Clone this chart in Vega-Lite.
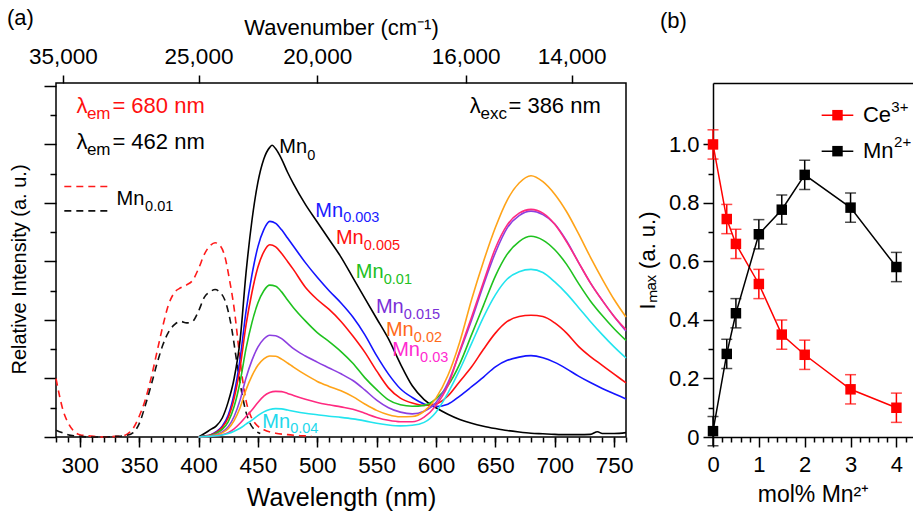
{
  "$schema": "https://vega.github.io/schema/vega-lite/v6.json",
  "padding": {"left": 6, "top": 6, "right": 0, "bottom": 0},
  "bounds": "flush",
  "spacing": 87,
  "config": {
    "font": "Liberation Sans",
    "view": {"stroke": null},
    "axis": {
      "labelFont": "Liberation Sans", "titleFont": "Liberation Sans",
      "labelColor": "#000", "titleColor": "#000", "tickColor": "#000", "domainColor": "#000",
      "labelFontSize": 22, "titleFontSize": 22, "titleFontWeight": "normal",
      "tickWidth": 1.5, "domainWidth": 1.5, "grid": false, "labelFlush": false
    },
    "title": {"font": "Liberation Sans", "fontSize": 22, "fontWeight": "normal", "color": "#000"}
  },
  "datasets": {
    "spectra": [
      {"s":"Mn0","wl":400,"I":0},{"s":"Mn0","wl":405,"I":0.012},{"s":"Mn0","wl":410,"I":0.025},{"s":"Mn0","wl":415,"I":0.038},{"s":"Mn0","wl":420,"I":0.065},{"s":"Mn0","wl":425,"I":0.12},{"s":"Mn0","wl":430,"I":0.2},{"s":"Mn0","wl":435,"I":0.33},{"s":"Mn0","wl":440,"I":0.56},{"s":"Mn0","wl":445,"I":0.74},{"s":"Mn0","wl":450,"I":0.87},{"s":"Mn0","wl":455,"I":0.95},{"s":"Mn0","wl":460,"I":0.99},{"s":"Mn0","wl":462,"I":0.997},{"s":"Mn0","wl":465,"I":0.985},{"s":"Mn0","wl":470,"I":0.95},{"s":"Mn0","wl":475,"I":0.905},{"s":"Mn0","wl":480,"I":0.865},{"s":"Mn0","wl":490,"I":0.795},{"s":"Mn0","wl":500,"I":0.735},{"s":"Mn0","wl":510,"I":0.675},{"s":"Mn0","wl":520,"I":0.615},{"s":"Mn0","wl":530,"I":0.545},{"s":"Mn0","wl":540,"I":0.475},{"s":"Mn0","wl":550,"I":0.405},{"s":"Mn0","wl":560,"I":0.335},{"s":"Mn0","wl":570,"I":0.25},{"s":"Mn0","wl":580,"I":0.175},{"s":"Mn0","wl":590,"I":0.128},{"s":"Mn0","wl":600,"I":0.1},{"s":"Mn0","wl":610,"I":0.078},{"s":"Mn0","wl":620,"I":0.06},{"s":"Mn0","wl":630,"I":0.047},{"s":"Mn0","wl":640,"I":0.037},{"s":"Mn0","wl":650,"I":0.029},{"s":"Mn0","wl":660,"I":0.022},{"s":"Mn0","wl":670,"I":0.017},{"s":"Mn0","wl":680,"I":0.013},{"s":"Mn0","wl":690,"I":0.011},{"s":"Mn0","wl":700,"I":0.009},{"s":"Mn0","wl":710,"I":0.008},{"s":"Mn0","wl":720,"I":0.008},{"s":"Mn0","wl":730,"I":0.009},{"s":"Mn0","wl":736,"I":0.018},{"s":"Mn0","wl":740,"I":0.012},{"s":"Mn0","wl":750,"I":0.012},{"s":"Mn0","wl":760,"I":0.015},

      {"s":"Mn0.003","wl":400,"I":0},{"s":"Mn0.003","wl":405,"I":0.003},{"s":"Mn0.003","wl":410,"I":0.007},{"s":"Mn0.003","wl":415,"I":0.018},{"s":"Mn0.003","wl":420,"I":0.037},{"s":"Mn0.003","wl":425,"I":0.074},{"s":"Mn0.003","wl":430,"I":0.148},{"s":"Mn0.003","wl":435,"I":0.266},{"s":"Mn0.003","wl":440,"I":0.429},{"s":"Mn0.003","wl":445,"I":0.554},{"s":"Mn0.003","wl":450,"I":0.65},{"s":"Mn0.003","wl":455,"I":0.709},{"s":"Mn0.003","wl":460,"I":0.737},{"s":"Mn0.003","wl":465,"I":0.73},{"s":"Mn0.003","wl":470,"I":0.708},{"s":"Mn0.003","wl":475,"I":0.68},{"s":"Mn0.003","wl":480,"I":0.652},{"s":"Mn0.003","wl":490,"I":0.596},{"s":"Mn0.003","wl":500,"I":0.546},{"s":"Mn0.003","wl":510,"I":0.5},{"s":"Mn0.003","wl":520,"I":0.458},{"s":"Mn0.003","wl":530,"I":0.41},{"s":"Mn0.003","wl":540,"I":0.35},{"s":"Mn0.003","wl":550,"I":0.278},{"s":"Mn0.003","wl":560,"I":0.215},{"s":"Mn0.003","wl":570,"I":0.165},{"s":"Mn0.003","wl":580,"I":0.135},{"s":"Mn0.003","wl":590,"I":0.113},{"s":"Mn0.003","wl":600,"I":0.104},{"s":"Mn0.003","wl":610,"I":0.112},{"s":"Mn0.003","wl":620,"I":0.14},{"s":"Mn0.003","wl":630,"I":0.172},{"s":"Mn0.003","wl":640,"I":0.205},{"s":"Mn0.003","wl":650,"I":0.24},{"s":"Mn0.003","wl":660,"I":0.262},{"s":"Mn0.003","wl":670,"I":0.273},{"s":"Mn0.003","wl":680,"I":0.278},{"s":"Mn0.003","wl":690,"I":0.271},{"s":"Mn0.003","wl":700,"I":0.255},{"s":"Mn0.003","wl":710,"I":0.233},{"s":"Mn0.003","wl":720,"I":0.208},{"s":"Mn0.003","wl":730,"I":0.186},{"s":"Mn0.003","wl":740,"I":0.166},{"s":"Mn0.003","wl":750,"I":0.148},{"s":"Mn0.003","wl":760,"I":0.13},

      {"s":"Mn0.005","wl":400,"I":0},{"s":"Mn0.005","wl":405,"I":0.003},{"s":"Mn0.005","wl":410,"I":0.007},{"s":"Mn0.005","wl":415,"I":0.016},{"s":"Mn0.005","wl":420,"I":0.033},{"s":"Mn0.005","wl":425,"I":0.066},{"s":"Mn0.005","wl":430,"I":0.132},{"s":"Mn0.005","wl":435,"I":0.237},{"s":"Mn0.005","wl":440,"I":0.382},{"s":"Mn0.005","wl":445,"I":0.494},{"s":"Mn0.005","wl":450,"I":0.58},{"s":"Mn0.005","wl":455,"I":0.633},{"s":"Mn0.005","wl":460,"I":0.657},{"s":"Mn0.005","wl":465,"I":0.65},{"s":"Mn0.005","wl":470,"I":0.627},{"s":"Mn0.005","wl":475,"I":0.6},{"s":"Mn0.005","wl":480,"I":0.572},{"s":"Mn0.005","wl":490,"I":0.512},{"s":"Mn0.005","wl":500,"I":0.47},{"s":"Mn0.005","wl":510,"I":0.436},{"s":"Mn0.005","wl":520,"I":0.395},{"s":"Mn0.005","wl":530,"I":0.345},{"s":"Mn0.005","wl":540,"I":0.29},{"s":"Mn0.005","wl":550,"I":0.226},{"s":"Mn0.005","wl":560,"I":0.168},{"s":"Mn0.005","wl":570,"I":0.133},{"s":"Mn0.005","wl":580,"I":0.116},{"s":"Mn0.005","wl":590,"I":0.108},{"s":"Mn0.005","wl":600,"I":0.113},{"s":"Mn0.005","wl":610,"I":0.14},{"s":"Mn0.005","wl":620,"I":0.19},{"s":"Mn0.005","wl":630,"I":0.24},{"s":"Mn0.005","wl":640,"I":0.3},{"s":"Mn0.005","wl":650,"I":0.355},{"s":"Mn0.005","wl":660,"I":0.395},{"s":"Mn0.005","wl":670,"I":0.412},{"s":"Mn0.005","wl":680,"I":0.416},{"s":"Mn0.005","wl":690,"I":0.412},{"s":"Mn0.005","wl":700,"I":0.39},{"s":"Mn0.005","wl":710,"I":0.355},{"s":"Mn0.005","wl":720,"I":0.31},{"s":"Mn0.005","wl":730,"I":0.275},{"s":"Mn0.005","wl":740,"I":0.245},{"s":"Mn0.005","wl":750,"I":0.215},{"s":"Mn0.005","wl":760,"I":0.185},

      {"s":"Mn0.01","wl":400,"I":0},{"s":"Mn0.01","wl":405,"I":0.003},{"s":"Mn0.01","wl":410,"I":0.005},{"s":"Mn0.01","wl":415,"I":0.013},{"s":"Mn0.01","wl":420,"I":0.026},{"s":"Mn0.01","wl":425,"I":0.052},{"s":"Mn0.01","wl":430,"I":0.104},{"s":"Mn0.01","wl":435,"I":0.188},{"s":"Mn0.01","wl":440,"I":0.302},{"s":"Mn0.01","wl":445,"I":0.391},{"s":"Mn0.01","wl":450,"I":0.458},{"s":"Mn0.01","wl":455,"I":0.5},{"s":"Mn0.01","wl":460,"I":0.519},{"s":"Mn0.01","wl":465,"I":0.515},{"s":"Mn0.01","wl":470,"I":0.496},{"s":"Mn0.01","wl":475,"I":0.468},{"s":"Mn0.01","wl":480,"I":0.442},{"s":"Mn0.01","wl":490,"I":0.397},{"s":"Mn0.01","wl":500,"I":0.357},{"s":"Mn0.01","wl":510,"I":0.326},{"s":"Mn0.01","wl":520,"I":0.292},{"s":"Mn0.01","wl":530,"I":0.252},{"s":"Mn0.01","wl":540,"I":0.203},{"s":"Mn0.01","wl":550,"I":0.162},{"s":"Mn0.01","wl":560,"I":0.127},{"s":"Mn0.01","wl":570,"I":0.11},{"s":"Mn0.01","wl":580,"I":0.105},{"s":"Mn0.01","wl":590,"I":0.108},{"s":"Mn0.01","wl":600,"I":0.13},{"s":"Mn0.01","wl":610,"I":0.175},{"s":"Mn0.01","wl":620,"I":0.25},{"s":"Mn0.01","wl":630,"I":0.35},{"s":"Mn0.01","wl":640,"I":0.45},{"s":"Mn0.01","wl":650,"I":0.55},{"s":"Mn0.01","wl":660,"I":0.625},{"s":"Mn0.01","wl":670,"I":0.668},{"s":"Mn0.01","wl":680,"I":0.686},{"s":"Mn0.01","wl":690,"I":0.673},{"s":"Mn0.01","wl":700,"I":0.64},{"s":"Mn0.01","wl":710,"I":0.59},{"s":"Mn0.01","wl":720,"I":0.525},{"s":"Mn0.01","wl":730,"I":0.465},{"s":"Mn0.01","wl":740,"I":0.415},{"s":"Mn0.01","wl":750,"I":0.37},{"s":"Mn0.01","wl":760,"I":0.33},

      {"s":"Mn0.015","wl":400,"I":0},{"s":"Mn0.015","wl":405,"I":0.002},{"s":"Mn0.015","wl":410,"I":0.003},{"s":"Mn0.015","wl":415,"I":0.009},{"s":"Mn0.015","wl":420,"I":0.017},{"s":"Mn0.015","wl":425,"I":0.035},{"s":"Mn0.015","wl":430,"I":0.07},{"s":"Mn0.015","wl":435,"I":0.126},{"s":"Mn0.015","wl":440,"I":0.202},{"s":"Mn0.015","wl":445,"I":0.262},{"s":"Mn0.015","wl":450,"I":0.307},{"s":"Mn0.015","wl":455,"I":0.335},{"s":"Mn0.015","wl":460,"I":0.348},{"s":"Mn0.015","wl":465,"I":0.346},{"s":"Mn0.015","wl":470,"I":0.336},{"s":"Mn0.015","wl":475,"I":0.319},{"s":"Mn0.015","wl":480,"I":0.302},{"s":"Mn0.015","wl":490,"I":0.277},{"s":"Mn0.015","wl":500,"I":0.256},{"s":"Mn0.015","wl":510,"I":0.236},{"s":"Mn0.015","wl":520,"I":0.216},{"s":"Mn0.015","wl":530,"I":0.193},{"s":"Mn0.015","wl":540,"I":0.161},{"s":"Mn0.015","wl":550,"I":0.126},{"s":"Mn0.015","wl":560,"I":0.1},{"s":"Mn0.015","wl":570,"I":0.085},{"s":"Mn0.015","wl":580,"I":0.079},{"s":"Mn0.015","wl":590,"I":0.088},{"s":"Mn0.015","wl":600,"I":0.118},{"s":"Mn0.015","wl":610,"I":0.185},{"s":"Mn0.015","wl":620,"I":0.29},{"s":"Mn0.015","wl":630,"I":0.4},{"s":"Mn0.015","wl":640,"I":0.52},{"s":"Mn0.015","wl":650,"I":0.63},{"s":"Mn0.015","wl":660,"I":0.715},{"s":"Mn0.015","wl":670,"I":0.757},{"s":"Mn0.015","wl":680,"I":0.772},{"s":"Mn0.015","wl":690,"I":0.76},{"s":"Mn0.015","wl":700,"I":0.728},{"s":"Mn0.015","wl":710,"I":0.67},{"s":"Mn0.015","wl":720,"I":0.597},{"s":"Mn0.015","wl":730,"I":0.527},{"s":"Mn0.015","wl":740,"I":0.467},{"s":"Mn0.015","wl":750,"I":0.412},{"s":"Mn0.015","wl":760,"I":0.362},

      {"s":"Mn0.02","wl":400,"I":0},{"s":"Mn0.02","wl":405,"I":0.001},{"s":"Mn0.02","wl":410,"I":0.003},{"s":"Mn0.02","wl":415,"I":0.007},{"s":"Mn0.02","wl":420,"I":0.014},{"s":"Mn0.02","wl":425,"I":0.028},{"s":"Mn0.02","wl":430,"I":0.056},{"s":"Mn0.02","wl":435,"I":0.1},{"s":"Mn0.02","wl":440,"I":0.161},{"s":"Mn0.02","wl":445,"I":0.209},{"s":"Mn0.02","wl":450,"I":0.245},{"s":"Mn0.02","wl":455,"I":0.267},{"s":"Mn0.02","wl":460,"I":0.277},{"s":"Mn0.02","wl":465,"I":0.276},{"s":"Mn0.02","wl":470,"I":0.266},{"s":"Mn0.02","wl":475,"I":0.253},{"s":"Mn0.02","wl":480,"I":0.239},{"s":"Mn0.02","wl":490,"I":0.213},{"s":"Mn0.02","wl":500,"I":0.19},{"s":"Mn0.02","wl":510,"I":0.173},{"s":"Mn0.02","wl":520,"I":0.158},{"s":"Mn0.02","wl":530,"I":0.138},{"s":"Mn0.02","wl":540,"I":0.113},{"s":"Mn0.02","wl":550,"I":0.091},{"s":"Mn0.02","wl":560,"I":0.076},{"s":"Mn0.02","wl":570,"I":0.069},{"s":"Mn0.02","wl":580,"I":0.07},{"s":"Mn0.02","wl":590,"I":0.088},{"s":"Mn0.02","wl":600,"I":0.133},{"s":"Mn0.02","wl":610,"I":0.21},{"s":"Mn0.02","wl":620,"I":0.325},{"s":"Mn0.02","wl":630,"I":0.47},{"s":"Mn0.02","wl":640,"I":0.6},{"s":"Mn0.02","wl":650,"I":0.716},{"s":"Mn0.02","wl":660,"I":0.81},{"s":"Mn0.02","wl":670,"I":0.868},{"s":"Mn0.02","wl":680,"I":0.893},{"s":"Mn0.02","wl":690,"I":0.873},{"s":"Mn0.02","wl":700,"I":0.83},{"s":"Mn0.02","wl":710,"I":0.77},{"s":"Mn0.02","wl":720,"I":0.695},{"s":"Mn0.02","wl":730,"I":0.615},{"s":"Mn0.02","wl":740,"I":0.54},{"s":"Mn0.02","wl":750,"I":0.47},{"s":"Mn0.02","wl":760,"I":0.41},

      {"s":"Mn0.03","wl":400,"I":0},{"s":"Mn0.03","wl":405,"I":0.001},{"s":"Mn0.03","wl":410,"I":0.002},{"s":"Mn0.03","wl":415,"I":0.004},{"s":"Mn0.03","wl":420,"I":0.008},{"s":"Mn0.03","wl":425,"I":0.015},{"s":"Mn0.03","wl":430,"I":0.028},{"s":"Mn0.03","wl":435,"I":0.047},{"s":"Mn0.03","wl":440,"I":0.07},{"s":"Mn0.03","wl":445,"I":0.092},{"s":"Mn0.03","wl":450,"I":0.118},{"s":"Mn0.03","wl":455,"I":0.14},{"s":"Mn0.03","wl":460,"I":0.152},{"s":"Mn0.03","wl":465,"I":0.156},{"s":"Mn0.03","wl":470,"I":0.155},{"s":"Mn0.03","wl":475,"I":0.149},{"s":"Mn0.03","wl":480,"I":0.142},{"s":"Mn0.03","wl":490,"I":0.129},{"s":"Mn0.03","wl":500,"I":0.118},{"s":"Mn0.03","wl":510,"I":0.11},{"s":"Mn0.03","wl":520,"I":0.103},{"s":"Mn0.03","wl":530,"I":0.095},{"s":"Mn0.03","wl":540,"I":0.081},{"s":"Mn0.03","wl":550,"I":0.067},{"s":"Mn0.03","wl":560,"I":0.057},{"s":"Mn0.03","wl":570,"I":0.052},{"s":"Mn0.03","wl":580,"I":0.052},{"s":"Mn0.03","wl":590,"I":0.068},{"s":"Mn0.03","wl":600,"I":0.108},{"s":"Mn0.03","wl":610,"I":0.175},{"s":"Mn0.03","wl":620,"I":0.295},{"s":"Mn0.03","wl":630,"I":0.41},{"s":"Mn0.03","wl":640,"I":0.53},{"s":"Mn0.03","wl":650,"I":0.645},{"s":"Mn0.03","wl":660,"I":0.725},{"s":"Mn0.03","wl":670,"I":0.765},{"s":"Mn0.03","wl":680,"I":0.778},{"s":"Mn0.03","wl":690,"I":0.765},{"s":"Mn0.03","wl":700,"I":0.727},{"s":"Mn0.03","wl":710,"I":0.667},{"s":"Mn0.03","wl":720,"I":0.597},{"s":"Mn0.03","wl":730,"I":0.527},{"s":"Mn0.03","wl":740,"I":0.467},{"s":"Mn0.03","wl":750,"I":0.412},{"s":"Mn0.03","wl":760,"I":0.367},

      {"s":"Mn0.04","wl":400,"I":0},{"s":"Mn0.04","wl":405,"I":0.001},{"s":"Mn0.04","wl":410,"I":0.002},{"s":"Mn0.04","wl":415,"I":0.004},{"s":"Mn0.04","wl":420,"I":0.007},{"s":"Mn0.04","wl":425,"I":0.012},{"s":"Mn0.04","wl":430,"I":0.02},{"s":"Mn0.04","wl":435,"I":0.03},{"s":"Mn0.04","wl":440,"I":0.044},{"s":"Mn0.04","wl":445,"I":0.058},{"s":"Mn0.04","wl":450,"I":0.073},{"s":"Mn0.04","wl":455,"I":0.086},{"s":"Mn0.04","wl":460,"I":0.094},{"s":"Mn0.04","wl":465,"I":0.097},{"s":"Mn0.04","wl":470,"I":0.096},{"s":"Mn0.04","wl":475,"I":0.092},{"s":"Mn0.04","wl":480,"I":0.088},{"s":"Mn0.04","wl":490,"I":0.081},{"s":"Mn0.04","wl":500,"I":0.076},{"s":"Mn0.04","wl":510,"I":0.071},{"s":"Mn0.04","wl":520,"I":0.067},{"s":"Mn0.04","wl":530,"I":0.062},{"s":"Mn0.04","wl":540,"I":0.055},{"s":"Mn0.04","wl":550,"I":0.047},{"s":"Mn0.04","wl":560,"I":0.041},{"s":"Mn0.04","wl":570,"I":0.038},{"s":"Mn0.04","wl":580,"I":0.04},{"s":"Mn0.04","wl":590,"I":0.05},{"s":"Mn0.04","wl":600,"I":0.085},{"s":"Mn0.04","wl":610,"I":0.15},{"s":"Mn0.04","wl":620,"I":0.23},{"s":"Mn0.04","wl":630,"I":0.32},{"s":"Mn0.04","wl":640,"I":0.41},{"s":"Mn0.04","wl":650,"I":0.486},{"s":"Mn0.04","wl":660,"I":0.54},{"s":"Mn0.04","wl":670,"I":0.565},{"s":"Mn0.04","wl":680,"I":0.573},{"s":"Mn0.04","wl":690,"I":0.562},{"s":"Mn0.04","wl":700,"I":0.53},{"s":"Mn0.04","wl":710,"I":0.49},{"s":"Mn0.04","wl":720,"I":0.443},{"s":"Mn0.04","wl":730,"I":0.395},{"s":"Mn0.04","wl":740,"I":0.35},{"s":"Mn0.04","wl":750,"I":0.308},{"s":"Mn0.04","wl":760,"I":0.27}
    ],
    "excitation": [
      {"em":"680","wl":280,"I":0.2},{"em":"680","wl":283,"I":0.14},{"em":"680","wl":286,"I":0.09},{"em":"680","wl":290,"I":0.05},{"em":"680","wl":295,"I":0.02},{"em":"680","wl":300,"I":0.008},{"em":"680","wl":310,"I":0.003},{"em":"680","wl":320,"I":0},{"em":"680","wl":330,"I":0.002},{"em":"680","wl":335,"I":0.003},{"em":"680","wl":340,"I":0.01},{"em":"680","wl":345,"I":0.03},{"em":"680","wl":350,"I":0.07},{"em":"680","wl":355,"I":0.125},{"em":"680","wl":360,"I":0.2},{"em":"680","wl":365,"I":0.29},{"em":"680","wl":370,"I":0.38},{"em":"680","wl":375,"I":0.455},{"em":"680","wl":380,"I":0.495},{"em":"680","wl":385,"I":0.51},{"em":"680","wl":390,"I":0.52},{"em":"680","wl":395,"I":0.535},{"em":"680","wl":400,"I":0.575},{"em":"680","wl":405,"I":0.625},{"em":"680","wl":410,"I":0.655},{"em":"680","wl":414,"I":0.664},{"em":"680","wl":418,"I":0.655},{"em":"680","wl":422,"I":0.62},{"em":"680","wl":426,"I":0.54},{"em":"680","wl":430,"I":0.44},{"em":"680","wl":434,"I":0.3},{"em":"680","wl":437,"I":0.2},{"em":"680","wl":440,"I":0.125},{"em":"680","wl":444,"I":0.072},{"em":"680","wl":448,"I":0.045},{"em":"680","wl":455,"I":0.025},{"em":"680","wl":465,"I":0.013},{"em":"680","wl":475,"I":0.008},{"em":"680","wl":485,"I":0.005},{"em":"680","wl":495,"I":0.003},
      {"em":"462","wl":280,"I":0.023},{"em":"462","wl":285,"I":0.015},{"em":"462","wl":290,"I":0.008},{"em":"462","wl":295,"I":0.004},{"em":"462","wl":300,"I":0.002},{"em":"462","wl":310,"I":0},{"em":"462","wl":320,"I":0},{"em":"462","wl":330,"I":0.002},{"em":"462","wl":340,"I":0.006},{"em":"462","wl":345,"I":0.015},{"em":"462","wl":350,"I":0.045},{"em":"462","wl":355,"I":0.105},{"em":"462","wl":360,"I":0.175},{"em":"462","wl":365,"I":0.25},{"em":"462","wl":370,"I":0.315},{"em":"462","wl":375,"I":0.36},{"em":"462","wl":380,"I":0.385},{"em":"462","wl":385,"I":0.395},{"em":"462","wl":390,"I":0.39},{"em":"462","wl":395,"I":0.395},{"em":"462","wl":400,"I":0.43},{"em":"462","wl":405,"I":0.478},{"em":"462","wl":410,"I":0.497},{"em":"462","wl":414,"I":0.504},{"em":"462","wl":418,"I":0.495},{"em":"462","wl":422,"I":0.47},{"em":"462","wl":425,"I":0.43},{"em":"462","wl":428,"I":0.37},{"em":"462","wl":431,"I":0.29},{"em":"462","wl":434,"I":0.21},{"em":"462","wl":437,"I":0.14},{"em":"462","wl":440,"I":0.085},{"em":"462","wl":443,"I":0.05},{"em":"462","wl":447,"I":0.025},{"em":"462","wl":452,"I":0.012}
    ],
    "keysA": [
      {"em":"680","wl":287,"wl2":323.4,"I":0.856},
      {"em":"462","wl":287,"wl2":323.4,"I":0.773}
    ],
    "notes": [
      {"key":"em680","part":"main","wl":297.3,"I":1.131,"t":"λ"},
      {"key":"em680","part":"sub","wl":306,"I":1.103,"t":"em"},
      {"key":"em680","part":"main","wl":327.5,"I":1.131,"t":"= 680 nm"},
      {"key":"em462","part":"main","wl":297.3,"I":1.008,"t":"λ"},
      {"key":"em462","part":"sub","wl":306,"I":0.98,"t":"em"},
      {"key":"em462","part":"main","wl":327.5,"I":1.008,"t":"= 462 nm"},
      {"key":"exc","part":"main","wl":628.5,"I":1.131,"t":"λ"},
      {"key":"exc","part":"sub","wl":637.5,"I":1.103,"t":"exc"},
      {"key":"exc","part":"main","wl":661,"I":1.131,"t":"= 386 nm"},
      {"key":"key","part":"main","wl":331,"I":0.814,"t":"Mn"},
      {"key":"key","part":"sub","wl":355,"I":0.785,"t":"0.01"},
      {"key":"Mn0","part":"main","wl":468,"I":0.99,"t":"Mn"},
      {"key":"Mn0","part":"sub","wl":491.5,"I":0.962,"t":"0"},
      {"key":"Mn0.003","part":"main","wl":498.3,"I":0.773,"t":"Mn"},
      {"key":"Mn0.003","part":"sub","wl":521.8,"I":0.747,"t":"0.003"},
      {"key":"Mn0.005","part":"main","wl":515.7,"I":0.681,"t":"Mn"},
      {"key":"Mn0.005","part":"sub","wl":539.2,"I":0.652,"t":"0.005"},
      {"key":"Mn0.01","part":"main","wl":532.5,"I":0.564,"t":"Mn"},
      {"key":"Mn0.01","part":"sub","wl":556,"I":0.535,"t":"0.01"},
      {"key":"Mn0.015","part":"main","wl":549.4,"I":0.444,"t":"Mn"},
      {"key":"Mn0.015","part":"sub","wl":572.9,"I":0.417,"t":"0.015"},
      {"key":"Mn0.02","part":"main","wl":557.8,"I":0.366,"t":"Mn"},
      {"key":"Mn0.02","part":"sub","wl":581.3,"I":0.339,"t":"0.02"},
      {"key":"Mn0.03","part":"main","wl":563.1,"I":0.296,"t":"Mn"},
      {"key":"Mn0.03","part":"sub","wl":586.6,"I":0.269,"t":"0.03"},
      {"key":"Mn0.04","part":"main","wl":453.7,"I":0.052,"t":"Mn"},
      {"key":"Mn0.04","part":"sub","wl":477.2,"I":0.027,"t":"0.04"}
    ],
    "imax": [
      {"ion":"Ce","mol":0,"I":1.0,"lo":0.95,"hi":1.05},
      {"ion":"Ce","mol":0.3,"I":0.745,"lo":0.695,"hi":0.795},
      {"ion":"Ce","mol":0.5,"I":0.66,"lo":0.61,"hi":0.71},
      {"ion":"Ce","mol":1,"I":0.523,"lo":0.473,"hi":0.573},
      {"ion":"Ce","mol":1.5,"I":0.35,"lo":0.3,"hi":0.4},
      {"ion":"Ce","mol":2,"I":0.281,"lo":0.231,"hi":0.331},
      {"ion":"Ce","mol":3,"I":0.163,"lo":0.113,"hi":0.213},
      {"ion":"Ce","mol":4,"I":0.1,"lo":0.05,"hi":0.15},
      {"ion":"Mn","mol":0,"I":0.02,"lo":-0.03,"hi":0.07},
      {"ion":"Mn","mol":0.3,"I":0.284,"lo":0.234,"hi":0.334},
      {"ion":"Mn","mol":0.5,"I":0.423,"lo":0.373,"hi":0.473},
      {"ion":"Mn","mol":1,"I":0.693,"lo":0.643,"hi":0.743},
      {"ion":"Mn","mol":1.5,"I":0.777,"lo":0.727,"hi":0.827},
      {"ion":"Mn","mol":2,"I":0.896,"lo":0.846,"hi":0.946},
      {"ion":"Mn","mol":3,"I":0.784,"lo":0.734,"hi":0.834},
      {"ion":"Mn","mol":4,"I":0.581,"lo":0.531,"hi":0.631}
    ],
    "keysB": [
      {"ion":"Ce","x":2.37,"x2":3.06,"xm":2.715,"I":1.1},
      {"ion":"Mn","x":2.37,"x2":3.06,"xm":2.715,"I":0.977}
    ],
    "notesB": [
      {"part":"main","x":3.27,"I":1.1,"t":"Ce"},
      {"part":"sup","x":3.89,"I":1.128,"t":"3+"},
      {"part":"main","x":3.27,"I":0.977,"t":"Mn"},
      {"part":"sup","x":3.95,"I":1.008,"t":"2+"}
    ]
  },
  "hconcat": [
    {
      "width": 570,
      "height": 354,
      "view": {"stroke": "#000", "strokeWidth": 1.5},
      "title": {"text": "(a)", "anchor": "start", "frame": "group", "dx": -49, "dy": 14, "offset": 0},
      "resolve": {"scale": {"color": "independent"}, "axis": {"x": "independent", "y": "independent"}},
      "layer": [
        {
          "data": {"name": "excitation"},
          "mark": {"type": "line", "strokeWidth": 1.6, "strokeDash": [7, 5], "interpolate": "monotone"},
          "encoding": {
            "x": {"field": "wl", "type": "quantitative", "scale": {"domain": [280, 760], "nice": false, "zero": false},
                  "axis": {"orient": "bottom", "values": [280,290,300,310,320,330,340,350,360,370,380,390,400,410,420,430,440,450,460,470,480,490,500,510,520,530,540,550,560,570,580,590,600,610,620,630,640,650,660,670,680,690,700,710,720,730,740,750,760],
                           "tickSize": 5, "labels": false, "domain": false, "title": null}},
            "y": {"field": "I", "type": "quantitative", "scale": {"domain": [0, 1.21], "nice": false, "zero": false},
                  "axis": {"orient": "left", "values": [0.1, 0.3, 0.5, 0.7, 0.9, 1.1], "tickSize": 6, "labels": false, "domain": false, "title": null}},
            "color": {"field": "em", "type": "nominal", "scale": {"domain": ["680", "462"], "range": ["#ff1a1a", "#111111"]}, "legend": null}
          }
        },
        {
          "data": {"name": "spectra"},
          "mark": {"type": "line", "strokeWidth": 1.6, "interpolate": "monotone"},
          "encoding": {
            "x": {"field": "wl", "type": "quantitative", "scale": {"domain": [280, 760], "nice": false, "zero": false},
                  "axis": {"orient": "bottom", "values": [300,350,400,450,500,550,600,650,700,750], "tickSize": 10, "labelPadding": 7, "labelFontSize": 22.5, "domain": false,
                           "title": "Wavelength (nm)", "titleFontSize": 25, "titlePadding": 9}},
            "y": {"field": "I", "type": "quantitative", "scale": {"domain": [0, 1.21], "nice": false, "zero": false},
                  "axis": {"orient": "left", "values": [0, 0.2, 0.4, 0.6, 0.8, 1, 1.2], "tickSize": 12, "labels": false, "domain": false,
                           "title": "Relative Intensity (a. u.)", "titleFontSize": 20, "titlePadding": 14, "titleY": 186}},
            "color": {"field": "s", "type": "nominal",
                      "scale": {"domain": ["Mn0","Mn0.003","Mn0.005","Mn0.01","Mn0.015","Mn0.02","Mn0.03","Mn0.04"],
                                "range": ["#000000","#1414ff","#ff1010","#1fc21f","#8c3fe0","#ffa318","#ff2a80","#22e4ee"]},
                      "legend": null}
          }
        },
        {
          "data": {"name": "keysA"},
          "mark": {"type": "rule", "strokeWidth": 1.6, "strokeDash": [7, 5]},
          "encoding": {
            "x": {"field": "wl", "type": "quantitative", "scale": {"domain": [280, 760], "nice": false, "zero": false},
                  "axis": {"orient": "top", "values": [285.714, 400, 500, 625, 714.286],
                           "labelExpr": "format(round(10000000 / datum.value), ',')",
                           "tickSize": 8, "labelPadding": 7, "labelFontSize": 22.5, "domain": false,
                           "title": "Wavenumber (cm⁻¹)", "titleFontSize": 22, "titlePadding": 6}},
            "x2": {"field": "wl2"},
            "y": {"field": "I", "type": "quantitative", "scale": {"domain": [0, 1.21], "nice": false, "zero": false}, "axis": null},
            "color": {"field": "em", "type": "nominal", "scale": {"domain": ["680", "462"], "range": ["#ff1a1a", "#111111"]}, "legend": null}
          }
        },
        {
          "data": {"name": "notes"},
          "transform": [{"filter": "datum.part == 'main' && (datum.key == 'em680' || datum.key == 'em462' || datum.key == 'exc')"}],
          "mark": {"type": "text", "align": "left", "baseline": "middle", "fontSize": 22},
          "encoding": {
            "x": {"field": "wl", "type": "quantitative", "scale": {"domain": [280, 760], "nice": false, "zero": false}, "axis": null},
            "y": {"field": "I", "type": "quantitative", "scale": {"domain": [0, 1.21], "nice": false, "zero": false}, "axis": null},
            "text": {"field": "t"},
            "color": {"field": "key", "type": "nominal",
                      "scale": {"domain": ["em680","em462","exc"], "range": ["#ff1010","#000000","#000000"]},
                      "legend": null}
          }
        },
        {
          "data": {"name": "notes"},
          "transform": [{"filter": "datum.part == 'sub' && (datum.key == 'em680' || datum.key == 'em462' || datum.key == 'exc')"}],
          "mark": {"type": "text", "align": "left", "baseline": "middle", "fontSize": 17},
          "encoding": {
            "x": {"field": "wl", "type": "quantitative", "scale": {"domain": [280, 760], "nice": false, "zero": false}, "axis": null},
            "y": {"field": "I", "type": "quantitative", "scale": {"domain": [0, 1.21], "nice": false, "zero": false}, "axis": null},
            "text": {"field": "t"},
            "color": {"field": "key", "type": "nominal",
                      "scale": {"domain": ["em680","em462","exc"], "range": ["#ff1010","#000000","#000000"]},
                      "legend": null}
          }
        },
        {
          "data": {"name": "notes"},
          "transform": [{"filter": "datum.part == 'main' && datum.key != 'em680' && datum.key != 'em462' && datum.key != 'exc'"}],
          "mark": {"type": "text", "align": "left", "baseline": "middle", "fontSize": 20},
          "encoding": {
            "x": {"field": "wl", "type": "quantitative", "scale": {"domain": [280, 760], "nice": false, "zero": false}, "axis": null},
            "y": {"field": "I", "type": "quantitative", "scale": {"domain": [0, 1.21], "nice": false, "zero": false}, "axis": null},
            "text": {"field": "t"},
            "color": {"field": "key", "type": "nominal",
                      "scale": {"domain": ["key","Mn0","Mn0.003","Mn0.005","Mn0.01","Mn0.015","Mn0.02","Mn0.03","Mn0.04"],
                                "range": ["#000000","#000000","#1a1aff","#ff1010","#22c022","#7a30d8","#ff6a1a","#ff2ad0","#22d8ec"]},
                      "legend": null}
          }
        },
        {
          "data": {"name": "notes"},
          "transform": [{"filter": "datum.part == 'sub' && datum.key != 'em680' && datum.key != 'em462' && datum.key != 'exc'"}],
          "mark": {"type": "text", "align": "left", "baseline": "middle", "fontSize": 14.5},
          "encoding": {
            "x": {"field": "wl", "type": "quantitative", "scale": {"domain": [280, 760], "nice": false, "zero": false}, "axis": null},
            "y": {"field": "I", "type": "quantitative", "scale": {"domain": [0, 1.21], "nice": false, "zero": false}, "axis": null},
            "text": {"field": "t"},
            "color": {"field": "key", "type": "nominal",
                      "scale": {"domain": ["key","Mn0","Mn0.003","Mn0.005","Mn0.01","Mn0.015","Mn0.02","Mn0.03","Mn0.04"],
                                "range": ["#000000","#000000","#1a1aff","#ff1010","#22c022","#7a30d8","#ff6a1a","#ff2ad0","#22d8ec"]},
                      "legend": null}
          }
        }
      ]
    },
    {
      "width": 200,
      "height": 354,
      "title": {"text": "(b)", "anchor": "start", "frame": "group", "dx": -53, "offset": 50},
      "resolve": {"axis": {"x": "independent", "y": "independent"}},
      "layer": [
        {
          "data": {"name": "imax"},
          "mark": {"type": "line", "strokeWidth": 1.5},
          "encoding": {
            "x": {"field": "mol", "type": "quantitative", "scale": {"domain": [0, 4.362], "nice": false, "zero": false},
                  "axis": {"orient": "bottom", "values": [0, 1, 2, 3, 4], "tickSize": 10, "labelPadding": 7, "domain": true,
                           "title": "mol% Mn²⁺", "titleFontSize": 23, "titlePadding": 8}},
            "y": {"field": "I", "type": "quantitative", "scale": {"domain": [0, 1.21], "nice": false, "zero": false},
                  "axis": {"orient": "left", "values": [0, 0.2, 0.4, 0.6, 0.8, 1.0], "tickSize": 10, "labelPadding": 4, "domain": true,
                           "labelExpr": "datum.value == 0 ? '0' : format(datum.value, '.1f')",
                           "title": "Iₘₐₓ (a. u.)", "titleFontSize": 22, "titlePadding": 9}},
            "color": {"field": "ion", "type": "nominal", "scale": {"domain": ["Ce", "Mn"], "range": ["#ff0000", "#000000"]}, "legend": null}
          }
        },
        {
          "data": {"name": "imax"},
          "mark": {"type": "rule", "strokeWidth": 1.5},
          "encoding": {
            "x": {"field": "mol", "type": "quantitative", "scale": {"domain": [0, 4.362], "nice": false, "zero": false},
                  "axis": {"orient": "bottom", "values": [0.2,0.4,0.6,0.8,1.2,1.4,1.6,1.8,2.2,2.4,2.6,2.8,3.2,3.4,3.6,3.8,4.2], "tickSize": 5, "labels": false, "domain": false, "title": null}},
            "y": {"field": "lo", "type": "quantitative", "scale": {"domain": [0, 1.21], "nice": false, "zero": false},
                  "axis": {"orient": "left", "values": [0.1, 0.3, 0.5, 0.7, 0.9], "tickSize": 5, "labels": false, "domain": false, "title": null}},
            "y2": {"field": "hi"},
            "color": {"field": "ion", "type": "nominal", "scale": {"domain": ["Ce", "Mn"], "range": ["#ff0000", "#000000"]}, "legend": null}
          }
        },
        {
          "data": {"name": "imax"},
          "mark": {"type": "tick", "orient": "horizontal", "size": 11, "thickness": 1.5},
          "encoding": {
            "x": {"field": "mol", "type": "quantitative", "scale": {"domain": [0, 4.362], "nice": false, "zero": false},
                  "axis": {"orient": "top", "ticks": false, "labels": false, "domain": true, "title": null}},
            "y": {"field": "lo", "type": "quantitative", "scale": {"domain": [0, 1.21], "nice": false, "zero": false}, "axis": null},
            "color": {"field": "ion", "type": "nominal", "scale": {"domain": ["Ce", "Mn"], "range": ["#ff0000", "#000000"]}, "legend": null}
          }
        },
        {
          "data": {"name": "imax"},
          "mark": {"type": "tick", "orient": "horizontal", "size": 11, "thickness": 1.5},
          "encoding": {
            "x": {"field": "mol", "type": "quantitative", "scale": {"domain": [0, 4.362], "nice": false, "zero": false}, "axis": null},
            "y": {"field": "hi", "type": "quantitative", "scale": {"domain": [0, 1.21], "nice": false, "zero": false}, "axis": null},
            "color": {"field": "ion", "type": "nominal", "scale": {"domain": ["Ce", "Mn"], "range": ["#ff0000", "#000000"]}, "legend": null}
          }
        },
        {
          "data": {"name": "imax"},
          "mark": {"type": "point", "shape": "square", "filled": true, "size": 110, "opacity": 1},
          "encoding": {
            "x": {"field": "mol", "type": "quantitative", "scale": {"domain": [0, 4.362], "nice": false, "zero": false}, "axis": null},
            "y": {"field": "I", "type": "quantitative", "scale": {"domain": [0, 1.21], "nice": false, "zero": false}, "axis": null},
            "color": {"field": "ion", "type": "nominal", "scale": {"domain": ["Ce", "Mn"], "range": ["#ff0000", "#000000"]}, "legend": null}
          }
        },
        {
          "data": {"name": "keysB"},
          "mark": {"type": "rule", "strokeWidth": 1.5},
          "encoding": {
            "x": {"field": "x", "type": "quantitative", "scale": {"domain": [0, 4.362], "nice": false, "zero": false}, "axis": null},
            "x2": {"field": "x2"},
            "y": {"field": "I", "type": "quantitative", "scale": {"domain": [0, 1.21], "nice": false, "zero": false}, "axis": null},
            "color": {"field": "ion", "type": "nominal", "scale": {"domain": ["Ce", "Mn"], "range": ["#ff0000", "#000000"]}, "legend": null}
          }
        },
        {
          "data": {"name": "keysB"},
          "mark": {"type": "point", "shape": "square", "filled": true, "size": 110, "opacity": 1},
          "encoding": {
            "x": {"field": "xm", "type": "quantitative", "scale": {"domain": [0, 4.362], "nice": false, "zero": false}, "axis": null},
            "y": {"field": "I", "type": "quantitative", "scale": {"domain": [0, 1.21], "nice": false, "zero": false}, "axis": null},
            "color": {"field": "ion", "type": "nominal", "scale": {"domain": ["Ce", "Mn"], "range": ["#ff0000", "#000000"]}, "legend": null}
          }
        },
        {
          "data": {"name": "notesB"},
          "transform": [{"filter": "datum.part == 'main'"}],
          "mark": {"type": "text", "align": "left", "baseline": "middle", "fontSize": 22, "color": "#000"},
          "encoding": {
            "x": {"field": "x", "type": "quantitative", "scale": {"domain": [0, 4.362], "nice": false, "zero": false}, "axis": null},
            "y": {"field": "I", "type": "quantitative", "scale": {"domain": [0, 1.21], "nice": false, "zero": false}, "axis": null},
            "text": {"field": "t"}
          }
        },
        {
          "data": {"name": "notesB"},
          "transform": [{"filter": "datum.part == 'sup'"}],
          "mark": {"type": "text", "align": "left", "baseline": "middle", "fontSize": 15, "color": "#000"},
          "encoding": {
            "x": {"field": "x", "type": "quantitative", "scale": {"domain": [0, 4.362], "nice": false, "zero": false}, "axis": null},
            "y": {"field": "I", "type": "quantitative", "scale": {"domain": [0, 1.21], "nice": false, "zero": false}, "axis": null},
            "text": {"field": "t"}
          }
        }
      ]
    }
  ]
}
